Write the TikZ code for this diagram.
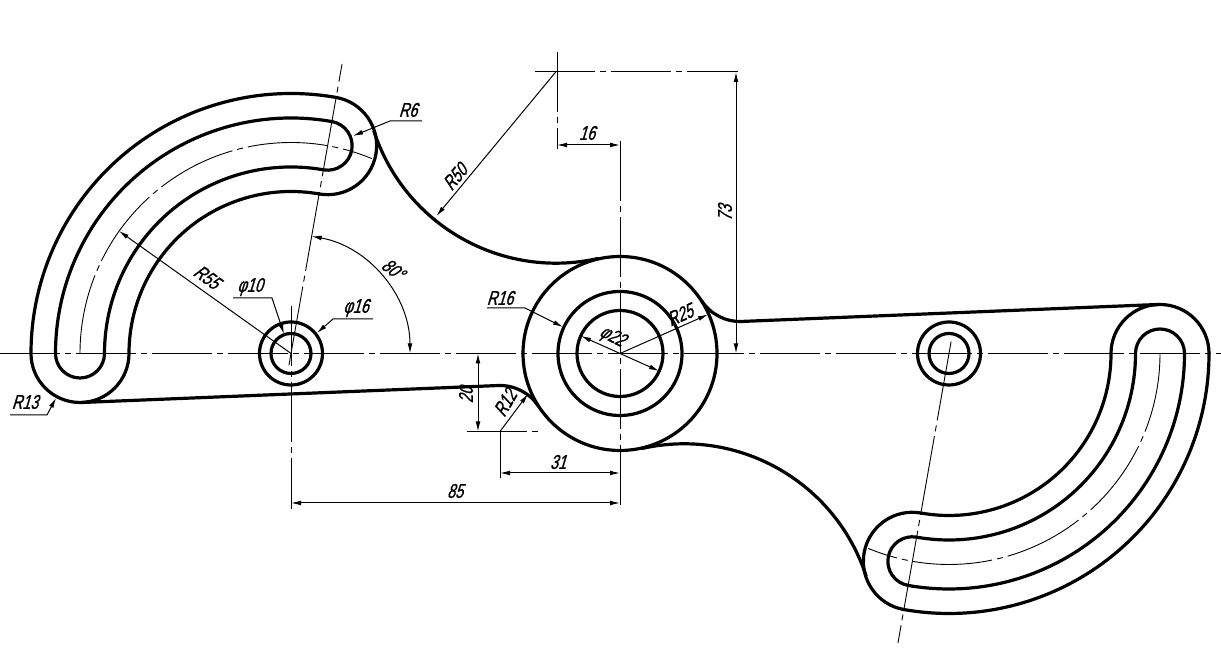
\documentclass[tikz,border=0pt]{standalone}
\usepackage{fontspec}
\usetikzlibrary{arrows.meta,calc}
\newfontfamily\cadfont[FakeSlant=0.3,FakeStretch=0.72,FakeBold=1]{Liberation Sans}
\tikzset{
  outline/.style={draw=black,line width=1.6pt,line join=round},
  axisline/.style={draw=black,line width=0.5pt,dash pattern=on 30pt off 2.5pt on 3pt off 2.5pt},
  finedash/.style={draw=black,line width=0.45pt,dash pattern=on 40pt off 2.5pt on 3pt off 2.5pt},
  thinline/.style={draw=black,line width=0.5pt},
  dimarrow/.style={thinline,{Latex[length=5pt,width=2.4pt]}-{Latex[length=5pt,width=2.4pt]}},
  leader/.style={thinline,-{Latex[length=5pt,width=2.4pt]}},
  dimtext/.style={font=\cadfont\fontsize{10}{12}\selectfont,inner sep=0pt,text=black}
}
% one arm of the part, origin at its small hole; drawn twice, the second turned 180 degrees about the hub
\newcommand{\armhalf}{%
  \begin{scope}[shift={(291,302.5)}]
  \path[outline] (0,0) circle[radius=31.5];
  \path[outline] (0,0) circle[radius=20];
  % outer band
  \path[outline] (180:260) arc[start angle=180,end angle=80,radius=260]
     arc[start angle=80,end angle=-100,radius=49]
     arc[start angle=80,end angle=180,radius=162]
     arc[start angle=0,end angle=-180,radius=49] -- cycle;
  % inner slot
  \path[outline] (180:235.5) arc[start angle=180,end angle=80,radius=235.5]
     arc[start angle=80,end angle=-100,radius=24.5]
     arc[start angle=80,end angle=180,radius=186.5]
     arc[start angle=0,end angle=-180,radius=24.5] -- cycle;
  % centre arc of the slot
  \path[finedash] (180:211) arc[start angle=180,end angle=67.5,radius=211];
  % 80 degree axis
  \path[finedash] (260:12) -- (80:294);
  % R50 blend from band to hub
  \path[outline] (82.8,222.8) arc[start angle=197.95,end angle=282.8,radius=191.5];
  % tangent line and R12 blend
  \path[outline] (-209,-49) -- (207.13,-32.04)
     arc[start angle=92.33,end angle=33.02,radius=46];
  \end{scope}
}
\begin{document}
\begin{tikzpicture}[x=0.5pt,y=0.5pt]
\useasboundingbox (0,0) rectangle (1221,656);
\fill[white] (0,0) rectangle (1221,656);
\coordinate (L) at (291,302.5);
\coordinate (C) at (620,302.5);

\armhalf
\begin{scope}[rotate around={180:(620,302.5)}]
  \armhalf
\end{scope}

\path[outline] (C) circle[radius=97];
\path[outline] (C) circle[radius=62];
\path[outline] (C) circle[radius=43];

% angle dimension
\path[dimarrow] ($(L)+(80:119)$) arc[start angle=80,end angle=0,radius=119];

\begin{scope}[yshift=328pt,y=-0.5pt]
  % centre lines
  \coordinate (hL) at (0,353.5);   \coordinate (hR) at (1221,353.5);
  \coordinate (vCt) at (620,141);  \coordinate (vCb) at (620,509);
  \coordinate (vLt) at (291,306);  \coordinate (vLb) at (291,509);
  \coordinate (pT) at (557,52);    \coordinate (pB) at (557,149);
  \coordinate (pL) at (535,72);    \coordinate (pR) at (738,72);
  \path[axisline] (hL) -- (hR);
  \path[axisline] (vCt) -- (vCb);
  \path[axisline] (vLt) -- (vLb);
  \path[axisline] (pT) -- (pB);
  \path[axisline] (pL) -- (pR);

  % 16
  \coordinate (d16a) at (557,145); \coordinate (d16b) at (620,145);
  \path[dimarrow] (d16a) -- (d16b);
  \node[dimtext] (t16) at (587,133) {16};
  % 73
  \coordinate (d73a) at (736,72); \coordinate (d73b) at (736,353.5);
  \path[dimarrow] (d73a) -- (d73b);
  \node[dimtext,rotate=90] (t73) at (725,213) {73};
  % R50
  \coordinate (pC) at (556,71.7); \coordinate (r50tip) at (436.5,216);
  \path[leader] (pC) -- (r50tip);
  \node[dimtext,rotate=50] (tR50) at (455,177) {R50};
  % R6
  \coordinate (r6a) at (422,121); \coordinate (r6b) at (390,121); \coordinate (r6tip) at (353,136);
  \path[leader] (r6a) -- (r6b) -- (r6tip);
  \node[dimtext] (tR6) at (408,110) {R6};
  % R55
  \coordinate (Li) at (291,353.5); \coordinate (r55tip) at (119,231);
  \path[leader] (Li) -- (r55tip);
  \node[dimtext,rotate=-36] (tR55) at (207,277) {R55};
  % phi 10
  \coordinate (p10a) at (233,298); \coordinate (p10b) at (272,298); \coordinate (p10tip) at (284,334);
  \path[leader] (p10a) -- (p10b) -- (p10tip);
  \node[dimtext] (tP10) at (250,287) {φ10};
  % phi 16
  \coordinate (p16a) at (373,319); \coordinate (p16b) at (333,319); \coordinate (p16tip) at (317,333);
  \path[leader] (p16a) -- (p16b) -- (p16tip);
  \node[dimtext] (tP16) at (356,308) {φ16};
  % 80 deg
  \node[dimtext,rotate=-38] (t80) at (393,269) {80°};
  % R13
  \coordinate (r13a) at (10,415); \coordinate (r13b) at (47,415); \coordinate (r13tip) at (56,398);
  \path[leader] (r13a) -- (r13b) -- (r13tip);
  \node[dimtext] (tR13) at (25,402) {R13};
  % R16
  \coordinate (r16a) at (487,308); \coordinate (r16b) at (525,308); \coordinate (r16tip) at (563,327);
  \path[leader] (r16a) -- (r16b) -- (r16tip);
  \node[dimtext] (tR16) at (500,298) {R16};
  % phi 22
  \coordinate (p22a) at (581,336); \coordinate (p22b) at (659,371);
  \path[dimarrow] (p22a) -- (p22b);
  \node[dimtext,rotate=-27] (tP22) at (612,337) {φ22};
  % R25
  \coordinate (Ci) at (620,353.5); \coordinate (r25tip) at (708,314.5);
  \path[leader] (Ci) -- (r25tip);
  \node[dimtext,rotate=24] (tR25) at (680,315) {R25};
  % R12
  \coordinate (Fi) at (500,431.5); \coordinate (r12tip) at (528,394);
  \path[leader] (Fi) -- (r12tip);
  \node[dimtext,rotate=60] (tR12) at (505,403) {R12};
  % 20
  \coordinate (d20a) at (478,353.5); \coordinate (d20b) at (478,431.5);
  \path[dimarrow] (d20a) -- (d20b);
  \node[dimtext,rotate=90] (t20) at (466,395) {20};
  \coordinate (e20a) at (467,431.5); \coordinate (e20b) at (539,431.5);
  \path[axisline] (e20a) -- (e20b);
  % 31
  \coordinate (e31) at (500,478);
  \path[axisline] (Fi) -- (e31);
  \coordinate (d31a) at (500,473); \coordinate (d31b) at (620,473);
  \path[dimarrow] (d31a) -- (d31b);
  \node[dimtext] (t31) at (558,462) {31};
  % 85
  \coordinate (d85a) at (291,503); \coordinate (d85b) at (620,503);
  \path[dimarrow] (d85a) -- (d85b);
  \node[dimtext] (t85) at (455,491) {85};
\end{scope}
\end{tikzpicture}
\end{document}
